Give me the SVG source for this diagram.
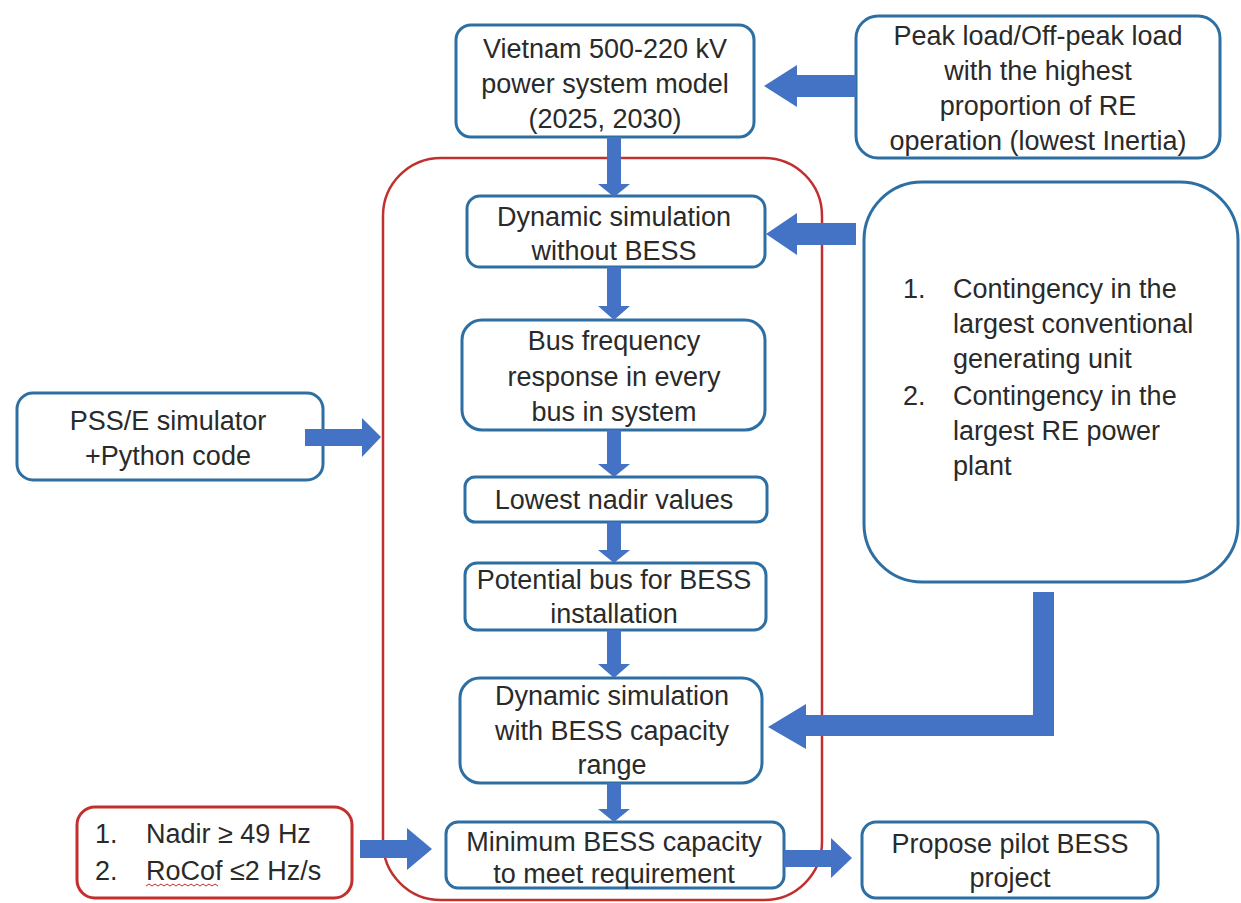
<svg xmlns="http://www.w3.org/2000/svg" width="1241" height="903" viewBox="0 0 1241 903">
<style>
.box{fill:#fff;stroke:#2E6FA3;stroke-width:3}
.rbox{fill:none;stroke:#C0302E;stroke-width:2.5}
.arr{fill:#4472C4}
text{font-family:"Liberation Sans",Arial,sans-serif;font-size:27px;fill:#2a2a2a}
.c{text-anchor:middle}
</style>
<rect x="0" y="0" width="1241" height="903" fill="#fff"/>
<g id="frame">
<rect class="rbox" x="383" y="158" width="439" height="742" rx="58"/>
</g>
<g id="n-vietnam"><rect class="box" x="456" y="25" width="298" height="112" rx="15"/>
<text class="c" x="605" y="58">Vietnam 500-220 kV</text>
<text class="c" x="605" y="93">power system model</text>
<text class="c" x="605" y="128">(2025, 2030)</text></g>
<g id="n-peak"><rect class="box" x="856" y="16" width="364" height="142" rx="22"/>
<text class="c" x="1038" y="45">Peak load/Off-peak load</text>
<text class="c" x="1038" y="80">with the highest</text>
<text class="c" x="1038" y="115">proportion of RE</text>
<text class="c" x="1038" y="150">operation (lowest Inertia)</text></g>
<g id="n-dyn1"><rect class="box" x="467" y="196" width="298" height="71" rx="13"/>
<text class="c" x="614" y="226">Dynamic simulation</text>
<text class="c" x="614" y="260">without BESS</text></g>
<g id="n-cont"><rect class="box" x="864" y="182" width="374" height="400" rx="58"/>
<text x="903" y="298">1.</text><text x="953" y="298">Contingency in the</text>
<text x="953" y="333">largest conventional</text>
<text x="953" y="368">generating unit</text>
<text x="903" y="405">2.</text><text x="953" y="405">Contingency in the</text>
<text x="953" y="440">largest RE power</text>
<text x="953" y="475">plant</text></g>
<g id="n-bus"><rect class="box" x="462" y="320" width="303" height="110" rx="20"/>
<text class="c" x="614" y="350">Bus frequency</text>
<text class="c" x="614" y="386">response in every</text>
<text class="c" x="614" y="421">bus in system</text></g>
<g id="n-pss"><rect class="box" x="17" y="393" width="306" height="87" rx="16"/>
<text class="c" x="168" y="430">PSS/E simulator</text>
<text class="c" x="168" y="465">+Python code</text></g>
<g id="n-nadir"><rect class="box" x="465" y="477" width="302" height="45" rx="10"/>
<text class="c" x="614" y="509">Lowest nadir values</text></g>
<g id="n-pot"><rect class="box" x="465" y="563" width="301" height="67" rx="12"/>
<text class="c" x="614" y="589">Potential bus for BESS</text>
<text class="c" x="614" y="623">installation</text></g>
<g id="n-dyn2"><rect class="box" x="460" y="678" width="302" height="105" rx="20"/>
<text class="c" x="612" y="705">Dynamic simulation</text>
<text class="c" x="612" y="740">with BESS capacity</text>
<text class="c" x="612" y="774">range</text></g>
<g id="n-req"><rect x="77" y="807" width="275" height="91" rx="18" fill="#fff" stroke="#C0302E" stroke-width="3"/>
<text x="95" y="843">1.</text><text x="146" y="843">Nadir ≥ 49 Hz</text>
<text x="95" y="880">2.</text><text x="146" y="880">RoCof ≤2 Hz/s</text>
<path d="M146 886 l3 -2 l3 2 l3 -2 l3 2 l3 -2 l3 2 l3 -2 l3 2 l3 -2 l3 2 l3 -2 l3 2 l3 -2 l3 2 l3 -2 l3 2 l3 -2 l3 2 l3 -2 l3 2 l3 -2 l3 2 l3 -2 l3 2" fill="none" stroke="#C0302E" stroke-width="1"/></g>
<g id="n-min"><rect class="box" x="446" y="822" width="338" height="66" rx="12"/>
<text class="c" x="614" y="851">Minimum BESS capacity</text>
<text class="c" x="614" y="883">to meet requirement</text></g>
<g id="n-prop"><rect class="box" x="862" y="822" width="296" height="76" rx="14"/>
<text class="c" x="1010" y="853">Propose pilot BESS</text>
<text class="c" x="1010" y="887">project</text></g>
<g id="connectors">
<polygon class="arr" points="856,75 797,75 797,65 764,86 797,107 797,97 856,97"/>
<polygon class="arr" points="856,223 797,223 797,213 766,234 797,255 797,245 856,245"/>
<polygon class="arr" points="1033,592 1054,592 1054,736 806,736 806,749 768,727 806,704 806,715 1033,715"/>
<polygon class="arr" points="305,429 362,429 362,418 381,437 362,457 362,446 305,446"/>
<polygon class="arr" points="360,840 407,840 407,828 432,849 407,870 407,858 360,858"/>
<polygon class="arr" points="784,850 831,850 831,838 852,858 831,878 831,867 784,867"/>
<polygon class="arr" points="607,137 621,137 621,184 630,184 614,197 598,184 607,184"/>
<polygon class="arr" points="607,267 621,267 621,306 630,306 614,320 598,306 607,306"/>
<polygon class="arr" points="607,430 621,430 621,464 630,464 614,477 598,464 607,464"/>
<polygon class="arr" points="607,522 621,522 621,550 630,550 614,563 598,550 607,550"/>
<polygon class="arr" points="607,630 621,630 621,664 630,664 614,678 598,664 607,664"/>
<polygon class="arr" points="607,783 621,783 621,809 630,809 614,822 598,809 607,809"/>
</g>
</svg>
